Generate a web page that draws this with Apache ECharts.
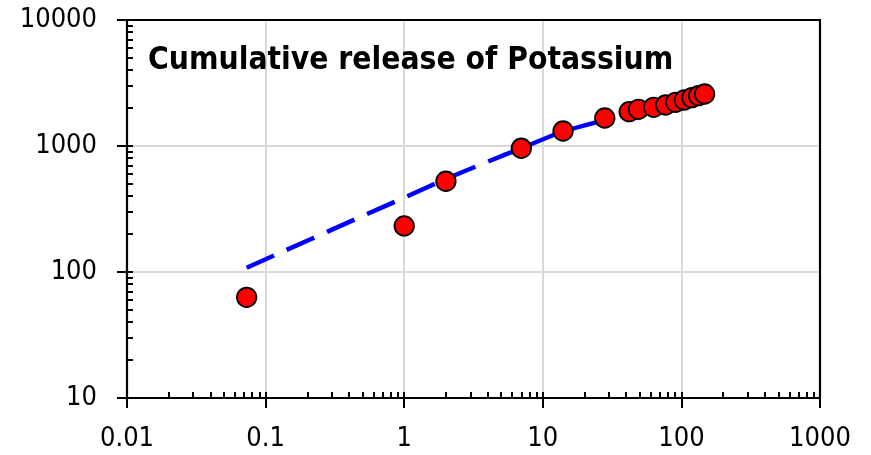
<!DOCTYPE html>
<html>
<head>
<meta charset="utf-8">
<script src="https://cdn.jsdelivr.net/npm/echarts@6/dist/echarts.min.js"></script>
<style>
html,body{margin:0;padding:0;background:#fff;}
#chart{width:871px;height:455px;}
</style>
</head>
<body>
<div id="chart"></div>
<script>
// Measured data (time, cumulative release)
const timeValues = [0.073, 1, 2, 7, 14, 28, 42, 49, 63, 77, 91, 105, 119, 133, 147];
const releaseValues = [63, 232, 525, 960, 1315, 1668, 1872, 1955, 2028, 2115, 2222, 2317, 2417, 2507, 2587];
// Model (dashed line)
const modelTime = [0.073, 0.5, 1, 2, 4, 7, 14, 28];
const modelValues = [108, 278, 389, 547, 750, 960, 1300, 1600];
const titleText = 'Cumulative release of Potassium';

const FONT = '"DejaVu Sans Condensed", "DejaVu Sans", sans-serif';

const chart = echarts.init(document.getElementById('chart'), null, {renderer: 'canvas'});

const baseX = {type: 'log', logBase: 10, min: 0.01, max: 1000, gridIndex: 0};
const baseY = {type: 'log', logBase: 10, min: 10, max: 10000, gridIndex: 0};
const fmt = function (v) { return String(+v.toPrecision(6)); };

const option = {
  animation: false,
  backgroundColor: '#ffffff',
  title: {
    text: titleText,
    left: 143, top: 40,
    textStyle: {fontFamily: FONT, fontWeight: 'bold', fontSize: 31.5, color: '#000'}
  },
  grid: {
    left: 127, right: 51, top: 20, bottom: 57,
    show: false
  },
  xAxis: [
    Object.assign({}, baseX, {
      position: 'bottom',
      axisLine: {show: true, lineStyle: {color: '#000', width: 2.2}},
      axisTick: {show: true, inside: true, length: 6, lineStyle: {color: '#000', width: 2}},
      minorTick: {show: true, splitNumber: 9, length: 6, lineStyle: {color: '#000', width: 2}},
      splitLine: {show: true, showMinLine: false, showMaxLine: false, lineStyle: {color: '#d9d9d9', width: 2}},
      axisLabel: {show: true, margin: 27, fontFamily: FONT, fontSize: 27, color: '#000', formatter: fmt}
    }),
    Object.assign({}, baseX, {
      position: 'bottom',
      axisLine: {show: false},
      axisTick: {show: true, inside: false, length: 10, lineStyle: {color: '#000', width: 2}},
      splitLine: {show: false},
      axisLabel: {show: false}
    }),
    Object.assign({}, baseX, {
      position: 'top',
      axisLine: {show: true, lineStyle: {color: '#000', width: 2.2}},
      axisTick: {show: false},
      splitLine: {show: false},
      axisLabel: {show: false}
    })
  ],
  yAxis: [
    Object.assign({}, baseY, {
      position: 'left',
      axisLine: {show: true, lineStyle: {color: '#000', width: 2.2}},
      axisTick: {show: true, inside: true, length: 6, lineStyle: {color: '#000', width: 2}},
      minorTick: {show: true, splitNumber: 9, length: 6, lineStyle: {color: '#000', width: 2}},
      splitLine: {show: true, showMinLine: false, showMaxLine: false, lineStyle: {color: '#d9d9d9', width: 2}},
      axisLabel: {show: true, margin: 30, fontFamily: FONT, fontSize: 27, color: '#000', formatter: fmt}
    }),
    Object.assign({}, baseY, {
      position: 'left',
      axisLine: {show: false},
      axisTick: {show: true, inside: false, length: 10, lineStyle: {color: '#000', width: 2}},
      splitLine: {show: false},
      axisLabel: {show: false}
    }),
    Object.assign({}, baseY, {
      position: 'right',
      axisLine: {show: true, lineStyle: {color: '#000', width: 2.2}},
      axisTick: {show: false},
      splitLine: {show: false},
      axisLabel: {show: false}
    })
  ],
  series: [
    {
      type: 'line',
      xAxisIndex: 0, yAxisIndex: 0,
      data: modelTime.map((t, i) => [t, modelValues[i]]),
      smooth: 0.3,
      showSymbol: false,
      symbol: 'none',
      lineStyle: {color: '#0000ff', width: 4.5, type: [30, 14], cap: 'butt'},
      z: 2
    },
    {
      type: 'scatter',
      xAxisIndex: 0, yAxisIndex: 0,
      data: timeValues.map((t, i) => [t, releaseValues[i]]),
      symbol: 'circle',
      symbolSize: 19.5,
      itemStyle: {color: '#ff0000', borderColor: '#000', borderWidth: 1.8, opacity: 1},
      z: 3
    }
  ]
};
chart.setOption(option);
</script>
</body>
</html>
